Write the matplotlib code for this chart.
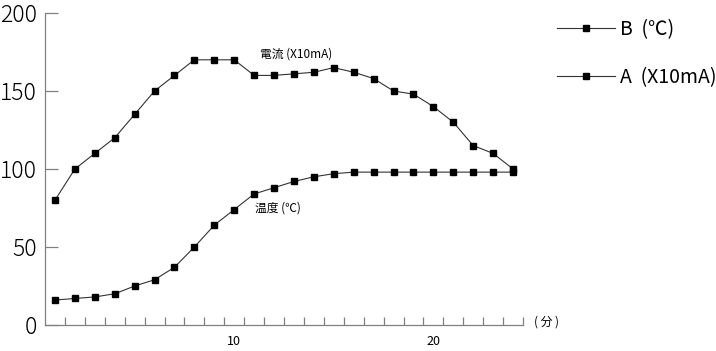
"""
Current and temperature over time, recreated from a scanned chart
"""
import matplotlib
matplotlib.use("Agg")
import matplotlib.pyplot as plt
import numpy as np

plt.rcParams['font.family'] = ['Noto Sans CJK JP', 'DejaVu Sans']

# Data
minutes = list(range(1, 25))
current = [80, 100, 110, 120, 135, 150, 160, 170, 170, 170, 160, 160,
           161, 162, 165, 162, 158, 150, 148, 140, 130, 115, 110, 100]
temperature = [16, 17, 18, 20, 25, 29, 37, 50, 64, 74, 84, 88,
               92, 95, 97, 98, 98, 98, 98, 98, 98, 98, 98, 98]
y_ticks = [0, 50, 100, 150, 200]
x_labels = [10, 20]

fig = plt.figure(figsize=(7.16, 3.51), dpi=100)
ax = fig.add_axes([45 / 716, 26 / 351, 478 / 716, 312 / 351])

line_kw = dict(color="#333333", linewidth=0.8, marker="s", markersize=5,
               markerfacecolor="black", markeredgecolor="black")
ax.plot(minutes, temperature, label="B  (℃)", **line_kw)
ax.plot(minutes, current, label="A  (X10mA)", **line_kw)

ax.set_xlim(0.5, 24.5)
ax.set_ylim(0, 200)

# axes look
for side in ("top", "right"):
    ax.spines[side].set_visible(False)
for side in ("left", "bottom"):
    ax.spines[side].set_color("#808080")
    ax.spines[side].set_linewidth(0.9)

ax.set_yticks(y_ticks)
ax.set_yticklabels([str(v) for v in y_ticks], fontsize=16.5, fontweight="light")
ax.tick_params(axis="y", direction="in", length=9, width=0.9, color="#808080", pad=6)

ax.set_xticks(x_labels)
ax.set_xticklabels([str(v) for v in x_labels], fontsize=9)
ax.tick_params(axis="x", which="major", length=0, pad=7)
ax.set_xticks(np.arange(1.5, 25, 1), minor=True)
ax.tick_params(axis="x", which="minor", direction="in", length=6, width=0.9, color="#808080")

# annotations
ax.text(11.3, 174, "電流 (X10mA)", fontsize=8.5, va="center", ha="left")
ax.text(11.05, 75, "温度 (℃)", fontsize=8.5, va="center", ha="left")
ax.text(25.05, 2, "( 分 )", fontsize=8.5, va="center", ha="left", clip_on=False)

ax.legend(loc="upper left", bbox_to_anchor=(557 / 716, 1 - 19 / 351),
          bbox_transform=fig.transFigure, frameon=False, fontsize=14,
          numpoints=1, markerscale=0.75,
          handlelength=3.0, handletextpad=0.25, labelspacing=1.4,
          borderpad=0, borderaxespad=0)

plt.savefig("out.png", dpi=100)
